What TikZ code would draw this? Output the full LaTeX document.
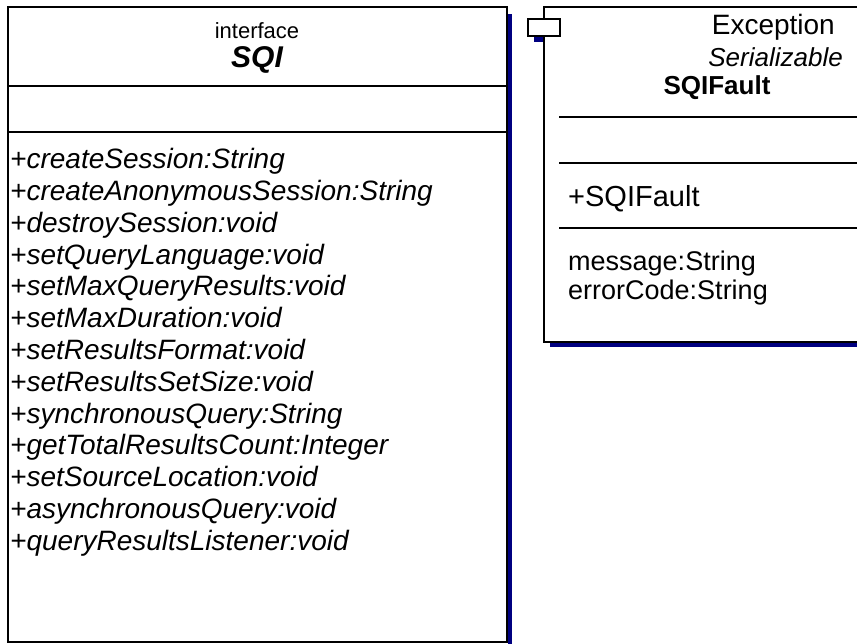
\documentclass[tikz,border=0pt]{standalone}
\usepackage{fontspec}
\setmainfont{Liberation Sans}
\definecolor{shadownavy}{RGB}{0,0,128}
\tikzset{
  boxline/.style={draw=black, line width=2pt, fill=white},
  divider/.style={draw=black, line width=2pt},
  method/.style={anchor=base west, inner sep=0pt, font=\fontsize{28}{31}\selectfont\itshape},
  member/.style={anchor=base west, inner sep=0pt, font=\fontsize{27}{31}\selectfont},
}
\begin{document}
\begin{tikzpicture}[x=1pt,y=-1pt]
\useasboundingbox (0,0) rectangle (857,644);
% shadows
\fill[shadownavy] (508,14) rectangle (512,650);
\fill[shadownavy] (550,14) rectangle (870,347);
\fill[shadownavy] (534,25) rectangle (566,42);
% left class box
\draw[boxline] (8,7) rectangle (507,642);
\draw[divider] (8,86) -- (507,86);
\draw[divider] (8,132) -- (507,132);
% right class box
\draw[boxline] (544,7) rectangle (880,342);
\draw[divider] (559,117) -- (880,117);
\draw[divider] (559,163) -- (880,163);
\draw[divider] (559,228) -- (880,228);
% component tab
\draw[boxline] (528,19) rectangle (560,36);
% left texts
\node[inner sep=0pt, font=\fontsize{22}{27}\selectfont] (ifc) at (257,31) {interface};
\node[inner sep=0pt, font=\fontsize{30}{34}\selectfont\bfseries\itshape] (sqi) at (257,60) {SQI};
\node[method] (m1) at (10,169) {+createSession:String};
\node[method] (m2) at (10,200.75) {+createAnonymousSession:String};
\node[method] (m3) at (10,232.5) {+destroySession:void};
\node[method] (m4) at (10,264.25) {+setQueryLanguage:void};
\node[method] (m5) at (10,296) {+setMaxQueryResults:void};
\node[method] (m6) at (10,327.75) {+setMaxDuration:void};
\node[method] (m7) at (10,359.5) {+setResultsFormat:void};
\node[method] (m8) at (10,391.25) {+setResultsSetSize:void};
\node[method] (m9) at (10,423) {+synchronousQuery:String};
\node[method] (m10) at (10,454.75) {+getTotalResultsCount:Integer};
\node[method] (m11) at (10,486.5) {+setSourceLocation:void};
\node[method] (m12) at (10,518.25) {+asynchronousQuery:void};
\node[method] (m13) at (10,550) {+queryResultsListener:void};
% right texts
\node[anchor=east, inner sep=0pt, font=\fontsize{28}{32}\selectfont] (exc) at (835,27) {Exception};
\node[anchor=east, inner sep=0pt, font=\fontsize{26}{30}\selectfont\itshape] (ser) at (843,57) {Serializable};
\node[inner sep=0pt, font=\fontsize{26}{30}\selectfont\bfseries] (flt) at (717,88) {SQIFault};
\node[member, font=\fontsize{29}{33}\selectfont] (op) at (568,207) {+SQIFault};
\node[member] (a1) at (568,271) {message:String};
\node[member] (a2) at (568,300) {errorCode:String};
\end{tikzpicture}
\end{document}
